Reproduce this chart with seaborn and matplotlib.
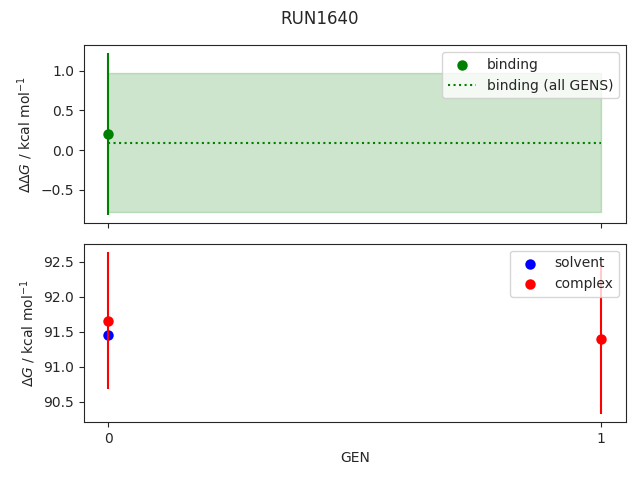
import matplotlib
matplotlib.use("Agg")
import matplotlib.pyplot as plt
import seaborn as sns
import pandas as pd

sns.set_style("ticks")
plt.rcParams['font.family'] = ['DejaVu Sans']
plt.rcParams['axes.spines.top'] = True
plt.rcParams['axes.spines.right'] = True

title = "RUN1640"
binding_gen = [0]
binding_val = [0.20]
binding_err = [1.02]
all_gens_x = [0, 1]
all_gens_mean = 0.09
all_gens_err = 0.875

solvent_gen = [0]
solvent_val = [91.45]
complex_gen = [0, 1]
complex_val = [91.66, 91.40]
complex_err = [0.98, 1.07]

fig, (ax1, ax2) = plt.subplots(2, 1, sharex=True, figsize=(6.4, 4.8), dpi=100)
fig.subplots_adjust(left=0.131, right=0.978, top=0.906, bottom=0.121, hspace=0.114)

# top panel
df_b = pd.DataFrame({"GEN": binding_gen, "val": binding_val})
sns.scatterplot(data=df_b, x="GEN", y="val", ax=ax1, color="green", s=36,
                edgecolor="green", linewidth=1.5, label="binding")
ax1.errorbar(binding_gen, binding_val, yerr=binding_err, fmt="none", ecolor="green")
df_all = pd.DataFrame({"GEN": all_gens_x, "val": [all_gens_mean] * len(all_gens_x)})
sns.lineplot(data=df_all, x="GEN", y="val", ax=ax1, color="green", linestyle=":", label="binding (all GENS)")
ax1.fill_between(all_gens_x, all_gens_mean - all_gens_err, all_gens_mean + all_gens_err, color="green", alpha=0.2)
ax1.set_ylabel(r"$\Delta\Delta G$ / kcal mol$^{-1}$")
ax1.set_xlabel("")
ax1.legend(loc="upper right")

# bottom panel
df_s = pd.DataFrame({"GEN": solvent_gen, "val": solvent_val})
df_c = pd.DataFrame({"GEN": complex_gen, "val": complex_val})
sns.scatterplot(data=df_s, x="GEN", y="val", ax=ax2, color="blue", s=36,
                edgecolor="blue", linewidth=1.5, label="solvent")
sns.scatterplot(data=df_c, x="GEN", y="val", ax=ax2, color="red", s=36,
                edgecolor="red", linewidth=1.5, label="complex")
ax2.errorbar(complex_gen, complex_val, yerr=complex_err, fmt="none", ecolor="red")
ax2.set_ylabel(r"$\Delta G$ / kcal mol$^{-1}$")
ax2.set_xlabel("GEN")
ax2.set_xticks([0, 1])
ax2.legend(loc="upper right")

fig.suptitle(title)
fig.savefig("out.png", dpi=100)
